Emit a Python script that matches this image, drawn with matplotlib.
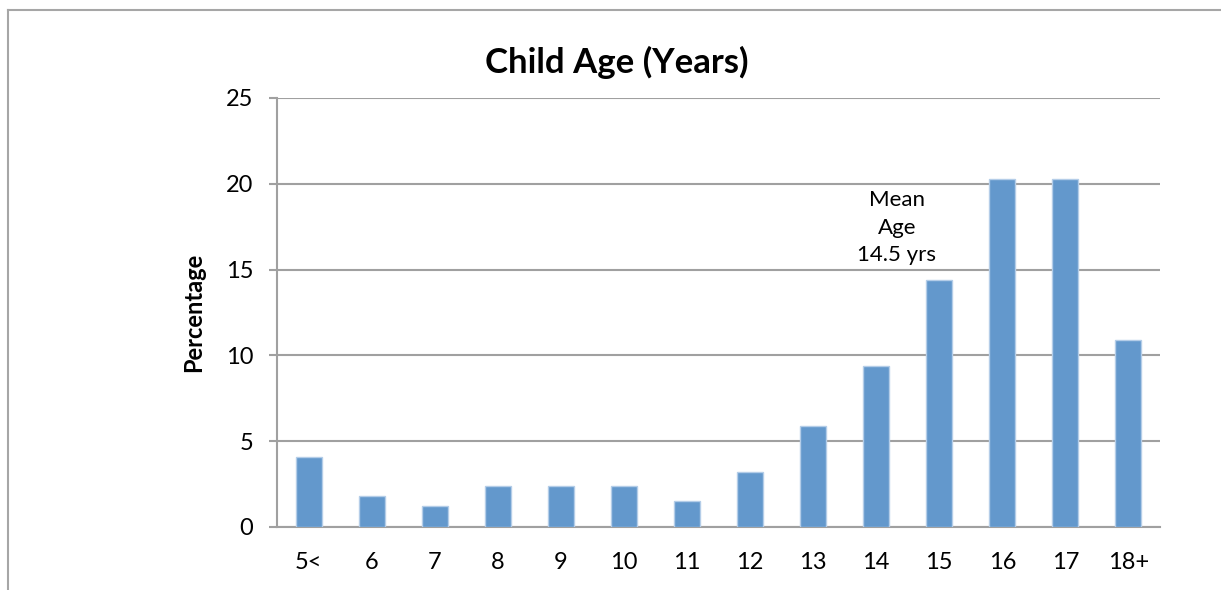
import matplotlib.pyplot as plt
from matplotlib.lines import Line2D

ages = ["5<", "6", "7", "8", "9", "10", "11", "12", "13", "14", "15", "16", "17", "18+"]
percentages = [4.1, 1.8, 1.2, 2.4, 2.4, 2.4, 1.5, 3.2, 5.9, 9.4, 14.4, 20.3, 20.3, 10.9]
y_ticks = [0, 5, 10, 15, 20, 25]

plt.rcParams['font.family'] = ['Lato', 'DejaVu Sans']

fig = plt.figure(figsize=(12.21, 5.90), dpi=100)
ax = fig.add_axes([0.2269, 0.1068, 0.7231, 0.7271])

grid_col = '#A0A0A0'
x = range(len(ages))
ax.bar(x, percentages, width=0.41, color='#6398CC', edgecolor='#B4CDE8', linewidth=1.0, zorder=3)

ax.set_xlim(-0.5, len(ages) - 0.5)
ax.set_ylim(0, 25)
ax.set_yticks(y_ticks)
ax.set_xticks(list(x))
ax.set_xticklabels(ages)
ax.yaxis.grid(True, color=grid_col, linewidth=1.5, zorder=0)

for side in ['top', 'right']:
    ax.spines[side].set_visible(False)
for side in ['left', 'bottom']:
    ax.spines[side].set_color(grid_col)
    ax.spines[side].set_linewidth(1.5)

ax.tick_params(axis='y', length=6, width=1.5, color=grid_col, pad=11, labelsize=17)
ax.tick_params(axis='x', length=0, pad=18, labelsize=17)

ax.set_ylabel('Percentage', fontsize=17, fontweight='bold')
ax.yaxis.set_label_coords(-0.0815, 0.5)
fig.text(0.505, 0.895, 'Child Age (Years)', ha='center', va='center', fontsize=25, fontweight='bold')

# annotation for mean age
ax.text(9.33, 17.45, 'Mean\nAge\n14.5 yrs', ha='center', va='center', fontsize=16, linespacing=1.45)

# outer chart frame
fig.add_artist(Line2D([0.0066, 0.0066], [0, 0.983], color='#A6A6A6', linewidth=1.5, transform=fig.transFigure))
fig.add_artist(Line2D([0.0066, 1.0], [0.983, 0.983], color='#A6A6A6', linewidth=1.5, transform=fig.transFigure))

fig.savefig('out.png', dpi=100)
